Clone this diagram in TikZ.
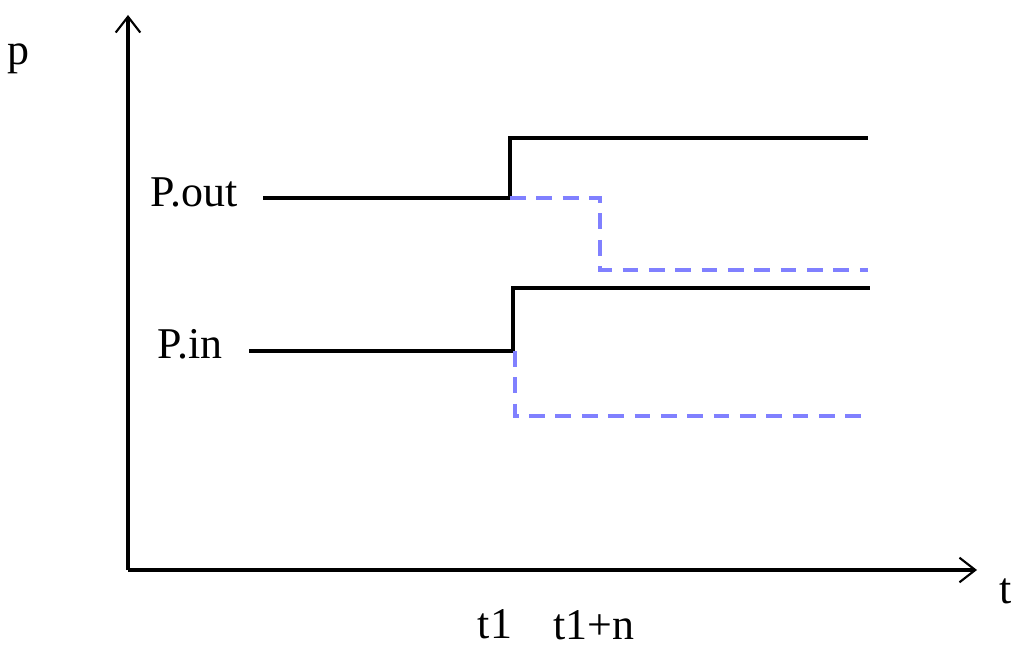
\documentclass[tikz,border=0pt]{standalone}
\usepackage{fontspec}
\setmainfont{Liberation Serif}
\usetikzlibrary{arrows.meta,positioning}

\tikzset{
    axis/.style={line width=1.8pt, -{Straight Barb[length=9pt,width=14pt,line width=1.2pt]}},
    level/.style={line width=2.1pt, black},
    drop/.style={line width=2.1pt, blue!50, dash pattern=on 9pt off 6pt},
    lbl/.style={font=\fontsize{25}{30}\selectfont, inner sep=0pt}
}

\begin{document}
\begin{tikzpicture}
        \useasboundingbox (0,0) rectangle (20.22,12.92);

        % axes
        \coordinate (O) at (2.56,1.52);
        \coordinate (ytop) at (2.56,12.62);
        \coordinate (xend) at (19.54,1.52);
        \draw[axis] (O) -- (ytop);
        \draw[axis] (O) -- (xend);
        \node[lbl, anchor=base] (p) at (0.36,11.62) {p};
        \node[lbl, anchor=base west] (t) at (19.98,0.86) {t};

        % output pressure
        \node[lbl, anchor=base east] (pout) at (4.76,8.78) {P.out};
        \draw[level] (5.26,8.96) -- (10.20,8.96) -- (10.20,10.16) -- (17.36,10.16);
        \draw[drop] (10.20,8.96) -- (12.00,8.96) -- (12.00,7.52) -- (17.36,7.52);

        % input pressure
        \node[lbl, anchor=base east] (pin) at (4.46,5.74) {P.in};
        \draw[level] (4.98,5.90) -- (10.26,5.90) -- (10.26,7.16) -- (17.40,7.16);
        \draw[drop] (10.30,5.90) -- (10.30,4.60) -- (17.40,4.60);

        % time marks
        \node[lbl, anchor=base] (t1) at (9.90,0.16) {t1};
        \node[lbl, anchor=base] (t1n) at (11.88,0.14) {t1+n};

    \end{tikzpicture}
\end{document}
